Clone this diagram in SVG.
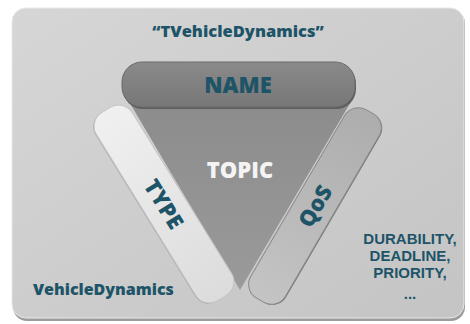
<svg xmlns="http://www.w3.org/2000/svg" width="470" height="324" viewBox="0 0 470 324">
  <defs>
    <linearGradient id="bg" x1="0" y1="0" x2="1" y2="1">
      <stop offset="0" stop-color="#d6d6d6"/>
      <stop offset="1" stop-color="#c4c4c4"/>
    </linearGradient>
    <linearGradient id="nameg" x1="0" y1="0" x2="0" y2="1">
      <stop offset="0" stop-color="#8a8a8a"/>
      <stop offset="1" stop-color="#777777"/>
    </linearGradient>
    <linearGradient id="topicg" x1="0" y1="0" x2="0" y2="1">
      <stop offset="0" stop-color="#8c8c8c"/>
      <stop offset="1" stop-color="#9a9a9a"/>
    </linearGradient>
    <linearGradient id="typeg" x1="0" y1="0" x2="1" y2="0">
      <stop offset="0" stop-color="#f0f0f0"/>
      <stop offset="1" stop-color="#dcdcdc"/>
    </linearGradient>
    <linearGradient id="qosg" x1="0" y1="0" x2="1" y2="0">
      <stop offset="0" stop-color="#c4c4c4"/>
      <stop offset="1" stop-color="#adadad"/>
    </linearGradient>
  </defs>
  <style>
    .lbl { font-family: "Open Sans", "Liberation Sans", sans-serif; font-weight: 800; fill: #1d5468; }
    .list { font-family: "Liberation Sans", Arial, sans-serif; font-weight: bold; fill: #1d5468; font-size: 15px; }
    .mid { text-anchor: middle; }
  </style>
  <g id="panel">
    <rect x="13" y="10" width="452" height="311" rx="14" fill="#9c9c9c"/>
    <rect x="12" y="8" width="452" height="310" rx="14" fill="url(#bg)" stroke="#e8e8e8" stroke-width="1"/>
  </g>
  <g id="connectors"/>
  <g id="node-topic">
    <polygon points="128,100 352,100 240,290" fill="url(#topicg)"/>
    <text class="mid" x="240" y="178" font-family="Open Sans, Liberation Sans, sans-serif" font-weight="800" font-size="22" fill="#f4f4f4">TOPIC</text>
  </g>
  <g id="node-type" transform="translate(164 204) rotate(58.3)">
    <rect x="-110.5" y="-20" width="221" height="42" rx="16" fill="#8f8f8f" opacity="0.6"/>
    <rect x="-110.5" y="-21" width="221" height="42" rx="16" fill="url(#typeg)" stroke="#c4c4c4" stroke-width="1"/>
    <text class="lbl mid" x="0" y="8" font-size="22">TYPE</text>
  </g>
  <g id="node-qos" transform="translate(315 206) rotate(-59.7)">
    <rect x="-109" y="-19" width="218" height="40" rx="16" fill="#6f6f6f"/>
    <rect x="-109" y="-20" width="218" height="40" rx="16" fill="url(#qosg)" stroke="#8a8a8a" stroke-width="1"/>
    <text class="lbl mid" x="0" y="8" font-size="22">QoS</text>
  </g>
  <g id="node-name">
    <rect x="123" y="64" width="233" height="45" rx="20" fill="#5e5e5e"/>
    <rect x="122" y="62" width="233" height="45" rx="20" fill="url(#nameg)" stroke="#6a6a6a" stroke-width="1"/>
    <text class="lbl mid" x="238" y="93" font-size="22">NAME</text>
  </g>
  <g id="label-topicname">
    <text class="lbl mid" x="238" y="37" font-size="16.5">“TVehicleDynamics”</text>
  </g>
  <g id="label-typename">
    <text class="lbl" x="33" y="295" font-size="16">VehicleDynamics</text>
  </g>
  <g id="label-qos">
    <text class="list mid" x="410" y="244">DURABILITY,</text>
    <text class="list mid" x="410" y="261">DEADLINE,</text>
    <text class="list mid" x="410" y="278">PRIORITY,</text>
    <text class="list mid" x="410" y="299">...</text>
  </g>
</svg>
